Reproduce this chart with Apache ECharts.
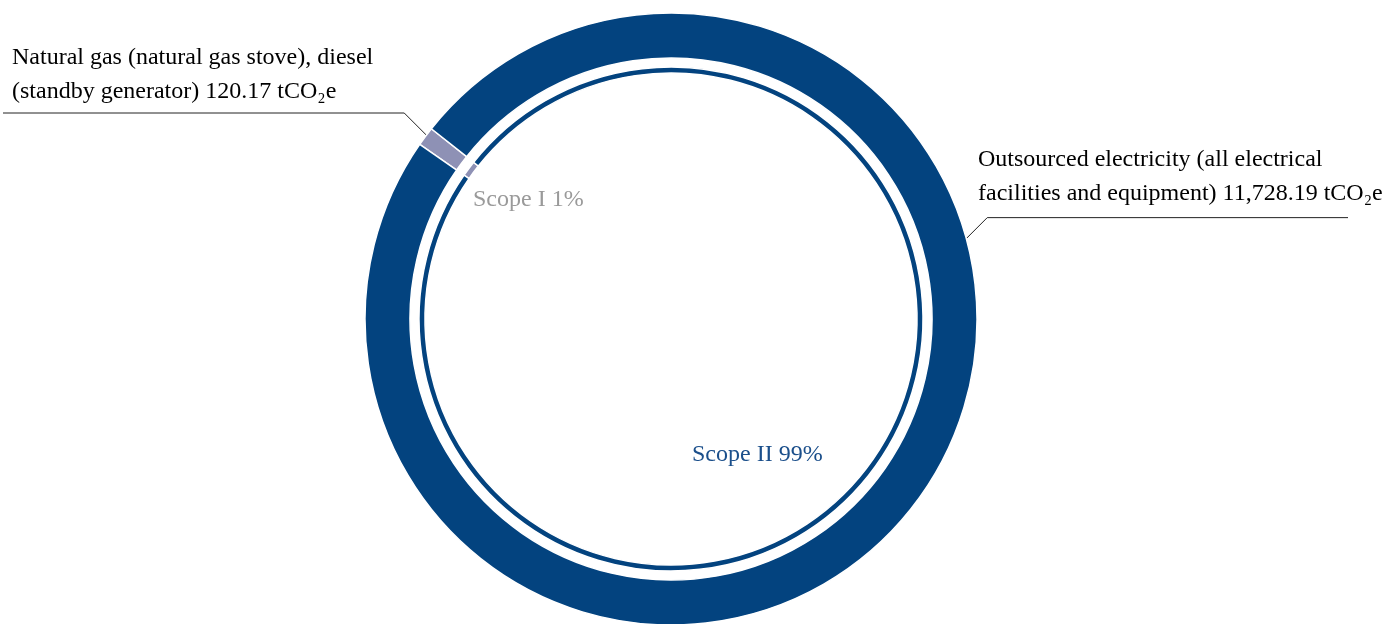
<!DOCTYPE html>
<html>
<head>
<meta charset="utf-8">
<script src="https://cdn.jsdelivr.net/npm/echarts@6/dist/echarts.min.js"></script>
<style>
  html, body { margin: 0; padding: 0; background: #ffffff; }
  #chart { width: 1384px; height: 624px; }
</style>
</head>
<body>
<div id="chart"></div>
<script>
// Emission scopes (inner ring) and their sources (outer ring)
const scopeNames = ['Scope I', 'Scope II'];
const sourceNames = [
  'Natural gas (natural gas stove), diesel\n(standby generator)',
  'Outsourced electricity (all electrical\nfacilities and equipment)'
];
const emissions = [120.17, 11728.19];
const unit = 'tCO\u2082e';

const sliceColors = ['#8e91b5', '#03437f'];
const scopeLabelColors = ['#9a9a9a', '#1b4f8b'];

// Geometry
const CX = 671, CY = 319;
const START_ANGLE = 145.2;
const FONT = "'Liberation Serif', 'Times New Roman', serif";
const FONT_SIZE = 24;
const total = emissions.reduce((a, b) => a + b, 0);

function midAngle(i) {
  let before = 0;
  for (let k = 0; k < i; k++) before += emissions[k];
  return START_ANGLE - (before + emissions[i] / 2) / total * 360;
}

// Callout placement for the source labels
const ANCHOR_R = 295;
const DIAG = 30;
const sourceLabelPlacement = [
  { anchorAngle: null, dir: -1, lineEndX: 3, textX: 12, textY: 75 },
  { anchorAngle: 14, dir: 1, lineEndX: 1348, textX: 978, textY: 176.5 }
];
const scopeLabelPlacement = [
  { x: 473, y: 200 },
  { x: 692, y: 455 }
];

function fmt(v) {
  return v.toLocaleString('en-US', { minimumFractionDigits: 2, maximumFractionDigits: 2 });
}

const chart = echarts.init(document.getElementById('chart'), null, { renderer: 'canvas' });

chart.setOption({
  animation: false,
  backgroundColor: '#ffffff',
  series: [
    {
      name: 'Source',
      type: 'pie',
      center: [CX, CY],
      radius: [261, 306],
      startAngle: START_ANGLE,
      clockwise: true,
      avoidLabelOverlap: false,
      silent: true,
      itemStyle: { borderColor: '#ffffff', borderWidth: 1.5 },
      label: {
        show: true,
        position: 'outside',
        fontFamily: FONT,
        fontSize: FONT_SIZE,
        lineHeight: 34,
        color: '#000000',
        formatter: p => p.name + ' ' + fmt(p.value) + ' ' + unit
      },
      labelLine: {
        show: true,
        lineStyle: { color: '#222222', width: 1 }
      },
      labelLayout: function (params) {
        const i = params.dataIndex;
        const cfg = sourceLabelPlacement[i];
        const deg = cfg.anchorAngle == null ? midAngle(i) : cfg.anchorAngle;
        const a = deg * Math.PI / 180;
        const ax = CX + ANCHOR_R * Math.cos(a);
        const ay = CY - ANCHOR_R * Math.sin(a);
        const ex = ax + cfg.dir * DIAG;
        const ey = ay - DIAG;
        return {
          x: cfg.textX,
          y: cfg.textY,
          align: 'left',
          verticalAlign: 'middle',
          labelLinePoints: [[ax, ay], [ex, ey], [cfg.lineEndX, ey]]
        };
      },
      data: emissions.map((v, i) => ({
        name: sourceNames[i],
        value: v,
        itemStyle: { color: sliceColors[i] }
      }))
    },
    {
      name: 'Scope',
      type: 'pie',
      center: [CX, CY],
      radius: [246, 252],
      startAngle: START_ANGLE,
      clockwise: true,
      percentPrecision: 0,
      avoidLabelOverlap: false,
      silent: true,
      itemStyle: { borderColor: '#ffffff', borderWidth: 1.5 },
      label: {
        show: true,
        position: 'inside',
        fontFamily: FONT,
        fontSize: FONT_SIZE,
        formatter: p => p.name + ' ' + p.percent + '%'
      },
      labelLine: { show: false },
      labelLayout: function (params) {
        const cfg = scopeLabelPlacement[params.dataIndex];
        return { x: cfg.x, y: cfg.y, align: 'left', verticalAlign: 'middle', rotate: 0 };
      },
      data: emissions.map((v, i) => ({
        name: scopeNames[i],
        value: v,
        itemStyle: { color: sliceColors[i] },
        label: { color: scopeLabelColors[i] }
      }))
    }
  ]
});
</script>
</body>
</html>
